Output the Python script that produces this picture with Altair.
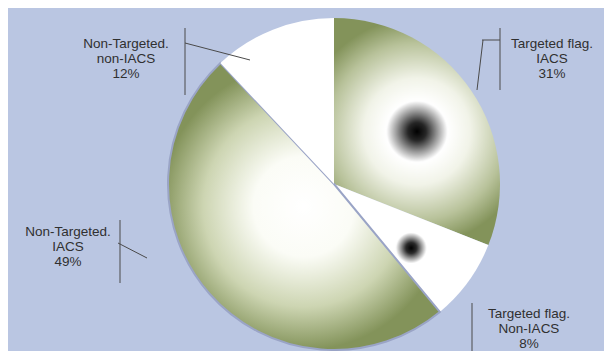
import altair as alt
import pandas as pd

# ---- data ----
line1 = ["Targeted flag.", "Targeted flag.", "Non-Targeted.", "Non-Targeted."]
line2 = ["IACS", "Non-IACS", "IACS", "non-IACS"]
shares = [31, 8, 49, 12]
slice_id = ["A", "B", "C", "D"]

# ---- layout (annotation positions, in view pixels; y = first text line) ----
label_x = [544, 521, 60, 118]
label_y = [36, 306, 224, 36]

BG = "#bac6e2"
OLIVE = "#83935a"
W, H = 596, 343
CX, CY, R = 326, 176, 166

df = pd.DataFrame({"idx": range(4), "id": slice_id, "l1": line1, "l2": line2, "v": shares})

base = alt.Chart(df).transform_window(
    cum="sum(v)", sort=[alt.SortField("idx")], frame=[None, 0]
).transform_calculate(start="datum.cum - datum.v")

theta_scale = alt.Scale(domain=[0, 100])

def stops(pairs):
    return [{"offset": o, "color": c} for o, c in pairs]

fills = {
    "A": {"gradient": "radial", "stops": stops([
        (0.0, "#000000"), (0.08, "#262626"), (0.18, "#9a9a9a"), (0.27, "#ffffff"),
        (0.47, "#f1f3e8"), (0.78, "#b8c29a"), (1.0, OLIVE)])},
    "B": {"gradient": "radial", "stops": stops([
        (0.0, "#000000"), (0.07, "#2a2a2a"), (0.14, "#a0a0a0"), (0.2, "#ffffff"), (1.0, "#ffffff")])},
    "C": {"gradient": "radial", "stops": stops([
        (0.0, "#ffffff"), (0.35, "#fbfcf6"), (0.7, "#cdd5b2"), (1.0, OLIVE)])},
    "D": "#ffffff",
}

layers = []
for sid in slice_id:
    extra = {}
    if sid == "C":
        extra = {"stroke": "#9aa4c6", "strokeWidth": 2}
    layers.append(
        base.transform_filter(alt.datum.id == sid)
        .mark_arc(fill=fills[sid], outerRadius=R, **extra)
        .encode(
            theta=alt.Theta("start:Q", scale=theta_scale),
            theta2="cum:Q",
            x=alt.value(CX),
            y=alt.value(CY),
        )
    )

lab = pd.DataFrame({"l1": line1, "l2": line2, "v": shares, "lx": label_x, "ly": label_y})
labels = alt.Chart(lab).transform_calculate(
    txt="datum.l1 + '\\n' + datum.l2 + '\\n' + datum.v + '%'"
).mark_text(
    lineBreak="\n", lineHeight=15, fontSize=13.5, font="Liberation Sans",
    color="#303030", align="center", baseline="middle"
).encode(
    x=alt.X("lx:Q", scale=None), y=alt.Y("ly:Q", scale=None), text="txt:N"
)

# leader lines (layout)
seg = pd.DataFrame({
    "x":  [177, 177, 492, 469, 474, 112, 110, 464],
    "y":  [20, 35, 20, 82, 32, 212, 235, 295],
    "x2": [177, 242, 492, 475, 492, 112, 139, 464],
    "y2": [87, 52, 82, 32, 32, 275, 250, 343],
})
rules = alt.Chart(seg).mark_rule(color="#4a4a4a", strokeWidth=1).encode(
    x=alt.X("x:Q", scale=None), y=alt.Y("y:Q", scale=None),
    x2="x2:Q", y2="y2:Q"
)

chart = alt.layer(*layers, rules, labels).properties(
    width=W, height=H, background=BG, padding=0,
    autosize=alt.AutoSizeParams(type="none"),
).configure_view(strokeWidth=0)

chart.save("out.html", embed_options={"renderer": "svg", "actions": False})
